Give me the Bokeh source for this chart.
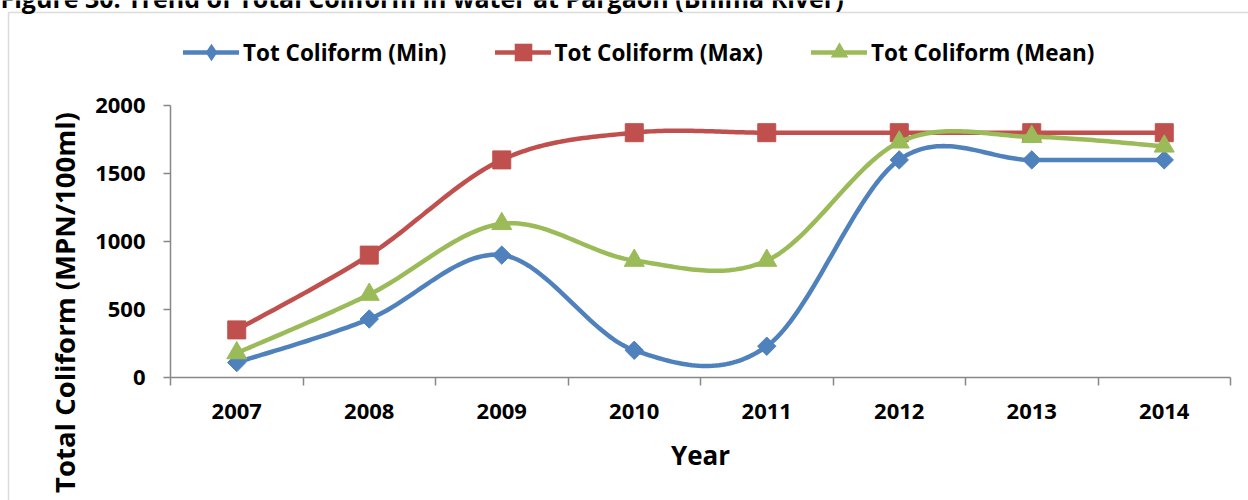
import numpy as np
from math import pi

from bokeh.plotting import figure
from bokeh.models import (Range1d, FixedTicker, Legend, LegendItem, Label,
                          BoxAnnotation)
from bokeh.embed import file_html
from bokeh.resources import INLINE

# Total coliform (MPN/100ml), Pargaon on the Bhima river
years = [2007, 2008, 2009, 2010, 2011, 2012, 2013, 2014]
tc_min = [110, 430, 900, 200, 230, 1600, 1600, 1600]
tc_max = [350, 900, 1600, 1800, 1800, 1800, 1800, 1800]
tc_mean = [180, 610, 1130, 860, 860, 1730, 1770, 1700]
y_ticks = [0, 500, 1000, 1500, 2000]

series_names = ["Tot Coliform (Min)", "Tot Coliform (Max)", "Tot Coliform (Mean)"]
series_colors = ["#4F81BD", "#C0504D", "#9BBB59"]

FONT = "Open Sans"
AXIS_GREY = "#878787"

# page geometry (px): the plot frame covers the whole page, the axes are
# pinned inside it so that captions and legend are not clipped
W, H = 1248, 500
AX_LEFT, AX_RIGHT = 170, 1230      # x axis extent
AX_TOP, AX_BOTTOM = 105, 377       # y axis extent


def smooth(xs, ys, n=40):
    """Smoothed line through the points: one cubic Bezier per segment,
    control points from Catmull-Rom tangents (ends use the end point itself)."""
    x = np.asarray(xs, dtype=float)
    y = np.asarray(ys, dtype=float)
    xp = np.concatenate([[x[0]], x, [x[-1]]])
    yp = np.concatenate([[y[0]], y, [y[-1]]])
    t = np.linspace(0.0, 1.0, n)
    out_x, out_y = [], []
    for i in range(len(x) - 1):
        x0, y0 = xp[i], yp[i]
        x1, y1 = x[i], y[i]
        x2, y2 = x[i + 1], y[i + 1]
        x3, y3 = xp[i + 3], yp[i + 3]
        c1x, c1y = x1 + (x2 - x0) / 6, y1 + (y2 - y0) / 6
        c2x, c2y = x2 - (x3 - x1) / 6, y2 - (y3 - y1) / 6
        b0, b1, b2, b3 = (1 - t) ** 3, 3 * (1 - t) ** 2 * t, 3 * (1 - t) * t ** 2, t ** 3
        seg_x = b0 * x1 + b1 * c1x + b2 * c2x + b3 * x2
        seg_y = b0 * y1 + b1 * c1y + b2 * c2y + b3 * y2
        if i > 0:
            seg_x, seg_y = seg_x[1:], seg_y[1:]
        out_x.extend(seg_x)
        out_y.extend(seg_y)
    return out_x, out_y


# data ranges stretched so that the axes land on the pixel extents above
x_lo, x_hi = years[0] - 0.5, years[-1] + 0.5
y_lo, y_hi = y_ticks[0], y_ticks[-1]
x_per_px = (x_hi - x_lo) / (AX_RIGHT - AX_LEFT)
y_per_px = (y_hi - y_lo) / (AX_BOTTOM - AX_TOP)
x_range = Range1d(x_lo - AX_LEFT * x_per_px, x_hi + (W - AX_RIGHT) * x_per_px)
y_range = Range1d(y_lo - (H - AX_BOTTOM) * y_per_px, y_hi + AX_TOP * y_per_px)

p = figure(width=W, height=H, output_backend="svg", toolbar_location=None,
           x_range=x_range, y_range=y_range, min_border=0)
p.outline_line_color = None
p.grid.visible = False
p.background_fill_color = "white"
p.border_fill_color = "white"

# x axis: labels under each year, tick marks between the years
xa = p.xaxis[0]
xa.fixed_location = y_lo
xa.bounds = (x_lo, x_hi)
xa.ticker = FixedTicker(ticks=years,
                        minor_ticks=[yr - 0.5 for yr in years] + [years[-1] + 0.5])
xa.major_label_overrides = {yr: str(yr) for yr in years}
xa.major_tick_out = 0
xa.major_tick_in = 0
xa.minor_tick_out = 8
xa.minor_tick_in = 0
xa.axis_line_color = AXIS_GREY
xa.axis_line_width = 1.5
xa.minor_tick_line_color = AXIS_GREY
xa.minor_tick_line_width = 1.5
xa.major_label_text_font = FONT
xa.major_label_text_font_style = "bold"
xa.major_label_text_font_size = "22px"
xa.major_label_text_color = "black"
xa.major_label_standoff = 18
xa.axis_label = "Year"
xa.axis_label_text_font = FONT
xa.axis_label_text_font_style = "bold"
xa.axis_label_text_font_size = "26px"
xa.axis_label_text_color = "black"
xa.axis_label_standoff = 15

ya = p.yaxis[0]
ya.fixed_location = x_lo
ya.bounds = (y_lo, y_hi)
ya.ticker = FixedTicker(ticks=y_ticks)
ya.major_tick_out = 7
ya.major_tick_in = 0
ya.minor_tick_line_color = None
ya.axis_line_color = AXIS_GREY
ya.axis_line_width = 1.5
ya.major_tick_line_color = AXIS_GREY
ya.major_tick_line_width = 1.5
ya.major_label_text_font = FONT
ya.major_label_text_font_style = "bold"
ya.major_label_text_font_size = "22px"
ya.major_label_text_color = "black"
ya.major_label_standoff = 18

# chart-area border (right and bottom edges run off the page)
p.add_layout(BoxAnnotation(left=8, right=W + 50, top=H - 12, bottom=-50,
                           left_units="screen", right_units="screen",
                           top_units="screen", bottom_units="screen",
                           fill_color=None, fill_alpha=0,
                           line_color="#8a8a8a", line_width=1.5))

# series: smoothed line plus markers; a zero-size marker renderer per series
# supplies the legend key symbol
values = [tc_min, tc_max, tc_mean]
markers = [("square", 13, pi / 4), ("square", 18, 0), ("triangle", 20, 0)]
legend_markers = ["diamond", "square", "triangle"]
items = []
for name, vals, color, (mk, sz, ang), lmk in zip(series_names, values, series_colors,
                                                 markers, legend_markers):
    sx, sy = smooth(years, vals)
    line_r = p.line(sx, sy, line_color=color, line_width=4.5,
                    line_cap="round", line_join="round")
    p.scatter(years, vals, marker=mk, size=sz, angle=ang,
              fill_color=color, line_color=color, line_width=1)
    key_r = p.scatter(years, vals, marker=lmk, size=0,
                      fill_color=color, line_color=None)
    items.append(LegendItem(label=name, renderers=[line_r, key_r]))

legend = Legend(items=items, orientation="horizontal", location=(183, H - 74),
                glyph_width=56, glyph_height=44, label_standoff=4, spacing=48,
                padding=0, margin=0, border_line_color=None,
                background_fill_alpha=0,
                label_text_font=FONT, label_text_font_style="bold",
                label_text_font_size="22.5px", label_text_color="black")
p.add_layout(legend)

# y axis title
p.add_layout(Label(x=64, y=H - 302, x_units="screen", y_units="screen",
                   text="Total Coliform (MPN/100ml)", angle=pi / 2,
                   text_align="center", text_baseline="alphabetic",
                   text_font=FONT, text_font_style="bold",
                   text_font_size="27.5px", text_color="black"))

# figure caption, running off the top edge of the page
p.add_layout(Label(x=0, y=H + 3, x_units="screen", y_units="screen",
                   text="Figure 30: Trend of Total Coliform in water at Pargaon (Bhima River)",
                   text_align="left", text_baseline="alphabetic",
                   text_font=FONT, text_font_style="bold",
                   text_font_size="25px", text_color="black"))

open("out.html", "w").write(file_html(p, INLINE))
